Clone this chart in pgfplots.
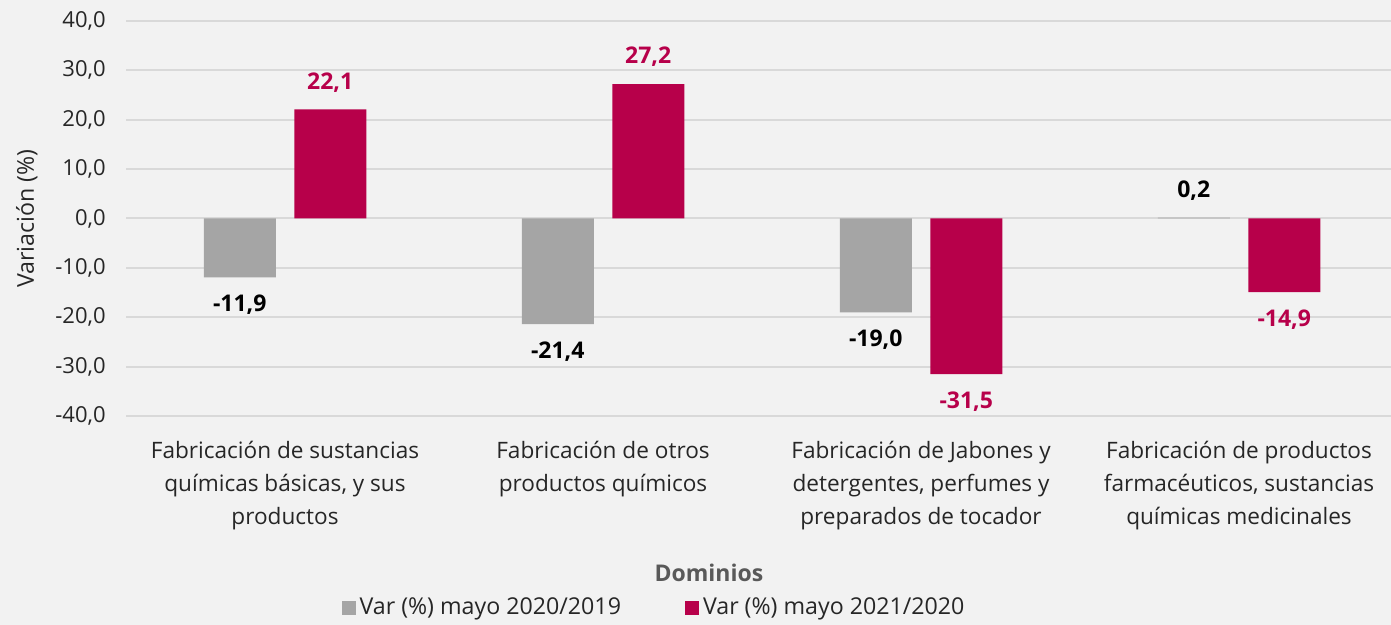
\documentclass[border=0pt]{standalone}
\usepackage{pgfplots}
\pgfplotsset{compat=1.18}
\usepackage{fontspec}
\setmainfont{Open Sans}
\definecolor{bg}{HTML}{F2F2F2}
\definecolor{grid}{HTML}{D9D9D9}
\definecolor{grayb}{HTML}{A5A5A5}
\definecolor{crim}{HTML}{B7004A}
\definecolor{txt}{HTML}{262626}
\definecolor{dom}{HTML}{595959}
\begin{document}
\begin{tikzpicture}
\fill[bg, use as bounding box] (0,0) rectangle (695.5pt,312.5pt);
\begin{axis}[
  at={(63pt,104.5pt)}, anchor=south west,
  scale only axis, width=636pt, height=197.5pt,
  xmin=-0.5, xmax=3.5, ymin=-40, ymax=40,
  ytick={-40,-30,...,40},
  xtick={0,1,2,3},
  xticklabels={{Fabricación de sustancias\\químicas básicas, y sus\\productos},
               {Fabricación de otros\\productos químicos},
               {Fabricación de Jabones y\\detergentes, perfumes y\\preparados de tocador},
               {Fabricación de productos\\farmacéuticos, sustancias\\químicas medicinales}},
  axis line style={draw=none},
  major tick length=0pt,
  xmajorgrids=false, ymajorgrids=true,
  y grid style={grid, line width=1pt},
  xtick style={draw=none},
  /pgf/number format/.cd, fixed, fixed zerofill, precision=1, use comma, 1000 sep={}, assume math mode=true,
  /pgfplots/.cd,
  ticklabel style={font=\fontsize{11}{16.5}\selectfont, text=txt},
  yticklabel style={inner sep=0pt, xshift=-10pt},
  xticklabel style={align=center, anchor=north, inner sep=0pt, yshift=-12.5pt, font=\fontsize{11.3}{16.5}\selectfont},
  ybar=9.25pt, bar width=36pt,
  nodes near coords,
  every node near coord/.append style={font=\fontsize{11.5}{13}\selectfont\bfseries, inner sep=8.5pt},
  ylabel={Variación (\%)},
  ylabel style={at={(axis description cs:-0.078,0.5)}, anchor=center, font=\fontsize{11.6}{13}\selectfont, text=txt},
  xlabel={Dominios},
  xlabel style={at={(axis description cs:0.4583,-0.397)}, anchor=center, font=\fontsize{11.5}{13}\selectfont\bfseries, text=dom},
  legend style={at={(axis description cs:0.4159,-0.486)}, anchor=center, draw=none, fill=none,
     legend columns=2, font=\fontsize{11.6}{13}\selectfont, text=txt,
     /tikz/every even column/.style={column sep=30pt}},
  legend image code/.code={\fill[#1] (0pt,-3.5pt) rectangle (7pt,3.5pt);},
]
\addplot[fill=grayb, draw=none, every node near coord/.append style={text=black}]
  coordinates {(0,-11.9) (1,-21.4) (2,-19.0) (3,0.2)};
\addplot[fill=crim, draw=none, every node near coord/.append style={text=crim}]
  coordinates {(0,22.1) (1,27.2) (2,-31.5) (3,-14.9)};
\legend{Var (\%) mayo 2020/2019, Var (\%) mayo 2021/2020}
\end{axis}
\end{tikzpicture}
\end{document}
